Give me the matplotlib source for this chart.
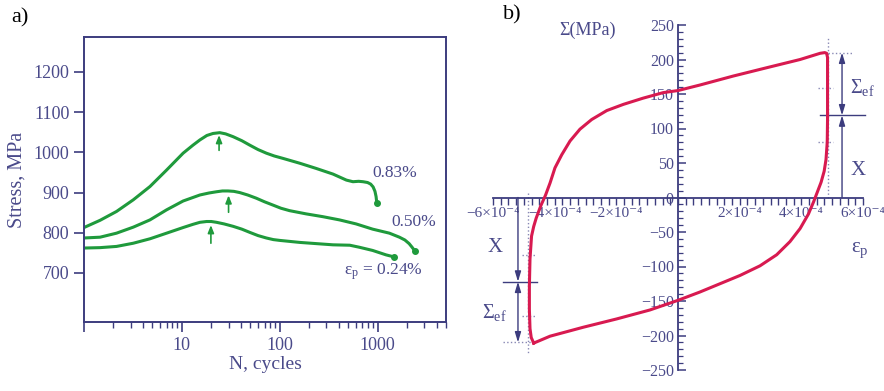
import numpy as np
import matplotlib
matplotlib.use('Agg')
import matplotlib.pyplot as plt
from matplotlib.ticker import FixedLocator, MultipleLocator, NullFormatter

plt.rcParams['font.family'] = ['Liberation Serif', 'DejaVu Serif']
plt.rcParams['mathtext.fontset'] = 'custom'
plt.rcParams['mathtext.rm'] = 'Liberation Serif'
plt.rcParams['mathtext.it'] = 'Liberation Serif:italic'

# ---- data: panel a (stress vs cycles)
n_083 = [1, 1.46, 2.15, 3.19, 4.72, 6.98, 10.3, 13, 15.3, 18, 20.8, 24.4, 28, 33.4, 41,
         49.4, 60, 73, 88, 108, 160, 236, 350, 480, 560, 640, 710, 790, 850, 900, 940,
         965, 975, 980]
s_083 = [813, 831, 853, 882, 915, 956, 998, 1018, 1031, 1042, 1047, 1049, 1046, 1039, 1029,
         1018, 1007, 998, 991, 985, 973, 960, 946, 931, 927, 928, 927, 925, 921, 914, 903,
         890, 880, 875]

n_050 = [1, 1.46, 2.15, 3.19, 4.72, 6.98, 10.3, 15.3, 19, 22.6, 26, 29.6, 34, 39, 47,
         57.6, 70, 85, 103, 126, 186, 276, 408, 603, 890, 1320, 1670, 1900, 2100, 2250,
         2350, 2420]
s_050 = [787, 789, 799, 814, 832, 857, 879, 894, 899, 902, 904, 904, 903, 900, 894,
         886, 877, 869, 861, 855, 847, 840, 832, 822, 809, 799, 789, 782, 773, 764,
         758, 754]

n_024 = [1, 1.46, 2.15, 3.19, 4.72, 6.98, 10.3, 13, 15.3, 17.9, 20, 22.6, 27, 33.4, 41,
         49.4, 60, 73, 86, 100, 160, 236, 350, 520, 650, 890, 1220, 1470]
s_024 = [762, 763, 766, 774, 785, 799, 813, 821, 826, 828, 828, 826, 822, 816, 809,
         801, 793, 787, 783, 781, 776, 773, 770, 769, 764, 756, 745, 740]

# peak arrows (N, tail stress, tip stress)
arrow_n = [24, 30, 19.8]
arrow_tail = [1005, 851, 774]
arrow_tip = [1043, 893, 819]

# ---- data: panel b (hysteresis loop, eps in 1e-4, Sigma in MPa)
eps_loop = [-4.68, -4.76, -4.80, -4.82, -4.82, -4.80, -4.75, -4.68, -4.60, -4.45, -4.30,
            -4.15, -3.99, -3.77, -3.50, -3.18, -2.80, -2.31, -1.77, -1.13, -0.48, 0.0,
            0.71, 1.79, 2.87, 3.96, 4.61, 4.76, 4.82, 4.85, 4.85, 4.85, 4.84, 4.80, 4.74,
            4.64, 4.52, 4.40, 4.23, 3.96, 3.63, 3.20, 2.66, 2.01, 1.36, 0.71, 0.0, -0.91,
            -1.99, -3.07, -4.15, -4.52, -4.68]
sig_loop = [-211, -203, -190, -162, -128, -89, -56, -42, -30, -12, 3,
            21, 43, 62, 82, 99, 113, 126, 135, 144, 152, 155,
            163, 176, 188, 200, 209, 210, 209, 203, 162, 113, 80, 55, 38,
            22, 8, -6, -24, -45, -64, -83, -99, -113, -125, -137, -149, -163,
            -176, -188, -201, -208, -211]

xtick_b = [-6, -4, -2, 2, 4, 6]
xtick_b_labels = ['\u22126\u00d710\u207b\u2074', '\u22124\u00d710\u207b\u2074', '\u22122\u00d710\u207b\u2074',
                  '2\u00d710\u207b\u2074', '4\u00d710\u207b\u2074', '6\u00d710\u207b\u2074']
ytick_b = [-250, -200, -150, -100, -50, 0, 50, 100, 150, 200, 250]

navy = '#3c3c7e'
txt = '#4a4a8a'
green = '#1f9a3c'
red = '#d81a50'
dotc = '#8888b4'

fig = plt.figure(figsize=(8.84, 3.91), dpi=100)

# ================= panel a
axa = fig.add_axes([84/884, 1-322/391, (446-84)/884, (322-37)/391])
for n, s in [(n_083, s_083), (n_050, s_050), (n_024, s_024)]:
    axa.plot(n, s, color=green, lw=2.2, solid_capstyle='round', solid_joinstyle='round')
    axa.plot(n[-1], s[-1], 'o', color=green, ms=4)
for n, a, b in zip(arrow_n, arrow_tail, arrow_tip):
    axa.annotate('', xy=(n, b), xytext=(n, a),
                 arrowprops=dict(arrowstyle='-|>,head_length=0.45,head_width=0.18',
                                 color=green, lw=1.2, shrinkA=0, shrinkB=0))
axa.set_xscale('log')
axa.set_xlim(1, 5000)
axa.set_ylim(578, 1287)
axa.xaxis.set_major_locator(FixedLocator([1, 10, 100, 1000]))
axa.set_xticklabels(['', '10', '100', '1000'])
axa.xaxis.set_minor_formatter(NullFormatter())
axa.set_yticks([700, 800, 900, 1000, 1100, 1200])
axa.tick_params(axis='both', which='major', direction='out', length=7, width=1.2,
                color=navy, labelcolor=txt, labelsize=13)
axa.tick_params(axis='x', which='minor', direction='out', length=4, width=1.0, color=navy)
for sp in axa.spines.values():
    sp.set_color(navy)
    sp.set_linewidth(1.4)
axa.set_xlabel('N, cycles', fontsize=14, color=txt, labelpad=2)
axa.set_ylabel('Stress, MPa', fontsize=14.5, color=txt, labelpad=5)
axa.text(1500, 948, '0.83%', fontsize=12.5, color=txt, ha='center', va='center')
axa.text(2350, 827, '0.50%', fontsize=12.5, color=txt, ha='center', va='center')
axa.text(1150, 703, '$\\mathrm{\u03b5_p}$ = 0.24%', fontsize=12.5, color=txt, ha='center', va='center')
fig.text(20/884, 1-18/391, 'a)', fontsize=16, ha='center', va='center')

# ================= panel b
axb = fig.add_axes([493/884, 1-370/391, 370/884, 345/391])
axb.plot(eps_loop, sig_loop, color=red, lw=2.2, solid_joinstyle='round', zorder=4)
axb.set_xlim(-6, 6)
axb.set_ylim(-250, 250)
axb.spines['left'].set_position(('data', 0))
axb.spines['bottom'].set_position(('data', 0))
axb.spines['top'].set_visible(False)
axb.spines['right'].set_visible(False)
for sp in ['left', 'bottom']:
    axb.spines[sp].set_color(navy)
    axb.spines[sp].set_linewidth(1.3)
axb.set_xticks(xtick_b)
axb.set_xticklabels(xtick_b_labels)
axb.xaxis.set_minor_locator(MultipleLocator(0.25))
axb.set_yticks(ytick_b)
axb.set_yticklabels([str(v).replace('-', '\u2212') for v in ytick_b])
axb.yaxis.set_minor_locator(MultipleLocator(10))
axb.tick_params(axis='x', which='both', direction='out', length=5, width=1.0,
                color=navy, labelcolor=txt, labelsize=11, pad=2)
axb.tick_params(axis='y', which='major', direction='in', length=6, width=1.1,
                color=navy, labelcolor=txt, labelsize=11.5, pad=3)
axb.tick_params(axis='y', which='minor', direction='in', length=3.5, width=0.9, color=navy)
axb.patch.set_alpha(0)

dot = dict(ls=':', color=dotc, lw=1, clip_on=False, zorder=1)

# right-hand annotation
axb.plot([4.85, 4.85], [0, 232], **dot)
axb.plot([4.85, 5.64], [210, 210], **dot)
axb.plot([4.54, 5.03], [158, 158], **dot)
axb.plot([4.54, 5.03], [80, 80], **dot)
axb.plot([4.6, 6.07], [119, 119], color=navy, lw=1, clip_on=False)
axb.annotate('', xy=(5.32, 210), xytext=(5.32, 119),
             arrowprops=dict(arrowstyle='<|-|>,head_length=0.6,head_width=0.18',
                             color=navy, lw=1, shrinkA=0, shrinkB=0))
axb.annotate('', xy=(5.32, 119), xytext=(5.32, 0),
             arrowprops=dict(arrowstyle='-|>,head_length=0.6,head_width=0.18',
                             color=navy, lw=1, shrinkA=0, shrinkB=0))
axb.text(5.58, 159, '$\\mathrm{\\Sigma_{ef}}$', fontsize=14.5, color=txt, ha='left', va='center')
axb.text(5.58, 39, 'X', fontsize=15, color=txt, ha='left', va='center')

# left-hand annotation
axb.plot([-4.85, -4.85], [7, -225], **dot)
axb.plot([-5.68, -4.74], [-210, -210], **dot)
axb.plot([-5.06, -4.64], [-83, -83], **dot)
axb.plot([-5.06, -4.64], [-172, -172], **dot)
axb.plot([-5.68, -4.57], [-122, -122], color=navy, lw=1, clip_on=False)
axb.annotate('', xy=(-5.19, -122), xytext=(-5.19, 0),
             arrowprops=dict(arrowstyle='-|>,head_length=0.6,head_width=0.18',
                             color=navy, lw=1, shrinkA=0, shrinkB=0))
axb.annotate('', xy=(-5.19, -210), xytext=(-5.19, -122),
             arrowprops=dict(arrowstyle='<|-|>,head_length=0.6,head_width=0.18',
                             color=navy, lw=1, shrinkA=0, shrinkB=0))
axb.text(-5.94, -72, 'X', fontsize=15, color=txt, ha='center', va='center')
axb.text(-5.55, -167, '$\\mathrm{\\Sigma_{ef}}$', fontsize=14.5, color=txt, ha='right', va='center')

axb.text(-2.95, 242, '\u03a3(MPa)', fontsize=13, color=txt, ha='center', va='center')
axb.text(5.9, -77, '$\\mathrm{\u03b5_p}$', fontsize=15, color=txt, ha='center', va='center')
fig.text(512/884, 1-15/391, 'b)', fontsize=16, ha='center', va='center')

fig.savefig('out.png', dpi=100)
